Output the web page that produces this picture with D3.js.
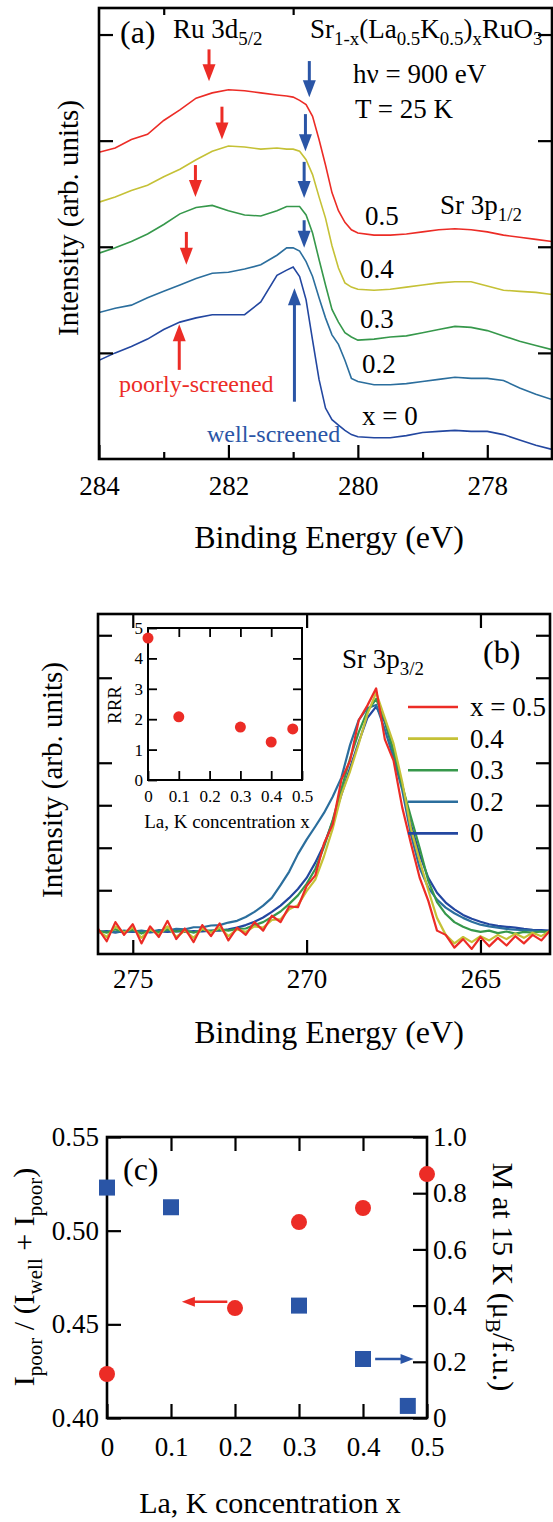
<!DOCTYPE html>
<html>
<head>
<meta charset="utf-8">
<script src="https://cdn.jsdelivr.net/npm/d3@7/dist/d3.min.js"></script>
<style>
body{margin:0;background:#fff}
svg text{font-family:"Liberation Serif","Times New Roman",serif;fill:#000}
</style>
</head>
<body>
<script>
// ---- panel (a): Ru 3d5/2 spectra, offset vertically ----
const energyA = [284.0, 283.75, 283.5, 283.25, 283.0, 282.75, 282.5, 282.25, 282.0, 281.75, 281.5, 281.25,
  281.1, 281.0, 280.9, 280.8, 280.7, 280.6, 280.5, 280.4, 280.3, 280.2, 280.1, 280.0,
  279.75, 279.5, 279.25, 279.0, 278.75, 278.5, 278.25, 278.0, 277.75, 277.5, 277.25, 277.0];
const ruX05 = [2.89, 2.93, 3.01, 3.06, 3.19, 3.29, 3.40, 3.45, 3.48, 3.47, 3.45, 3.43, 3.42, 3.41, 3.38, 3.34, 3.23, 3.01,
  2.77, 2.51, 2.34, 2.23, 2.16, 2.13, 2.11, 2.11, 2.12, 2.14, 2.16, 2.17, 2.16, 2.14, 2.11, 2.09, 2.07, 2.05];
const ruX04 = [2.42, 2.47, 2.53, 2.58, 2.66, 2.73, 2.82, 2.90, 2.95, 2.94, 2.92, 2.93, 2.92, 2.92, 2.90, 2.82, 2.68, 2.47,
  2.27, 2.01, 1.80, 1.66, 1.62, 1.60, 1.59, 1.60, 1.62, 1.64, 1.66, 1.67, 1.67, 1.63, 1.59, 1.58, 1.57, 1.55];
const ruX03 = [1.94, 1.99, 2.05, 2.12, 2.21, 2.31, 2.37, 2.39, 2.34, 2.30, 2.29, 2.34, 2.38, 2.38, 2.38, 2.30, 2.13, 1.88,
  1.64, 1.41, 1.29, 1.19, 1.15, 1.12, 1.13, 1.15, 1.16, 1.19, 1.22, 1.25, 1.24, 1.21, 1.16, 1.11, 1.07, 1.03];
const ruX02 = [1.38, 1.42, 1.45, 1.52, 1.58, 1.64, 1.70, 1.75, 1.76, 1.79, 1.83, 1.92, 1.99, 1.99, 1.96, 1.86, 1.72, 1.52,
  1.33, 1.17, 1.08, 0.93, 0.76, 0.73, 0.70, 0.70, 0.71, 0.73, 0.75, 0.77, 0.76, 0.76, 0.74, 0.67, 0.61, 0.56];
const ruX00 = [0.93, 1.00, 1.06, 1.13, 1.22, 1.29, 1.33, 1.36, 1.36, 1.36, 1.48, 1.73, 1.78, 1.81, 1.72, 1.50, 1.12, 0.75,
  0.48, 0.37, 0.32, 0.27, 0.23, 0.21, 0.20, 0.20, 0.22, 0.25, 0.26, 0.27, 0.26, 0.26, 0.23, 0.18, 0.13, 0.09];

// arrows marking poorly / well screened features (energy, from, to)
const poorArrowE = [282.30, 282.10, 282.51, 282.65, 282.76];
const poorArrowFrom = [3.86, 3.32, 2.77, 2.14, 0.84];
const poorArrowTo = [3.56, 3.01, 2.47, 1.83, 1.27];
const wellArrowE = [280.75, 280.81, 280.83, 280.83, 280.98];
const wellArrowFrom = [3.75, 3.25, 2.80, 2.25, 0.54];
const wellArrowTo = [3.41, 2.90, 2.46, 1.99, 1.61];

// ---- panel (b): Sr 3p3/2 spectra, 276 -> 263 eV in 0.25 eV steps ----
const energyB = d3.range(0, 53).map(i => 276 - 0.25 * i);
const srX05 = [0.10, -0.20, 0.25, -0.05, 0.20, -0.25, 0.15, -0.10, 0.28, -0.15, 0.10, -0.22, 0.18, -0.08, 0.22, -0.18,
  0.12, -0.05, 0.25, 0.05, 0.40, 0.25, 0.62, 0.60, 1.10, 1.35, 2.10, 2.55, 3.60, 4.05, 5.00, 5.35, 5.75,
  4.55, 4.05, 2.95, 2.10, 1.30, 0.75, 0.05, -0.05, -0.35, -0.15, -0.38, -0.10, -0.32, -0.12, -0.30, -0.08, -0.25, -0.05, -0.18, 0.05];
const srX04 = [0.05, -0.10, 0.15, 0.00, 0.12, -0.12, 0.08, -0.05, 0.15, -0.10, 0.05, -0.12, 0.10, 0.00, 0.12, -0.08,
  0.08, 0.02, 0.15, 0.12, 0.30, 0.32, 0.55, 0.65, 0.98, 1.25, 1.80, 2.45, 3.25, 3.80, 4.45, 5.15, 5.65,
  5.05, 4.45, 3.55, 2.45, 1.70, 1.00, 0.35, -0.05, -0.25, -0.10, -0.22, -0.08, -0.18, -0.05, -0.15, -0.02, -0.12, 0.00, -0.08, 0.05];
const srX03 = [0.05, 0.00, 0.08, 0.02, 0.07, -0.02, 0.06, 0.01, 0.08, 0.03, 0.06, 0.00, 0.07, 0.04, 0.08, 0.05,
  0.09, 0.10, 0.18, 0.25, 0.37, 0.50, 0.68, 0.88, 1.15, 1.50, 2.02, 2.65, 3.38, 4.10, 4.72, 5.22, 5.50,
  5.00, 4.28, 3.46, 2.72, 2.00, 1.22, 0.72, 0.44, 0.25, 0.14, 0.06, 0.02, 0.05, -0.01, 0.03, -0.02, 0.02, 0.00, 0.03, 0.02];
const srX02 = [0.00, 0.03, 0.01, 0.05, 0.03, 0.05, 0.02, 0.06, 0.05, 0.09, 0.08, 0.13, 0.13, 0.17, 0.18, 0.24,
  0.28, 0.37, 0.49, 0.64, 0.82, 1.12, 1.44, 1.85, 2.19, 2.50, 2.82, 3.20, 3.65, 4.42, 5.01, 5.29, 5.36,
  4.78, 4.12, 3.36, 2.31, 1.53, 1.06, 0.78, 0.59, 0.46, 0.35, 0.26, 0.19, 0.15, 0.12, 0.09, 0.07, 0.06, 0.05, 0.03, 0.02];
const srX00 = [0.02, 0.04, 0.01, 0.03, 0.02, 0.04, 0.01, 0.03, 0.02, 0.04, 0.02, 0.04, 0.03, 0.05, 0.05, 0.08,
  0.12, 0.18, 0.26, 0.36, 0.49, 0.64, 0.82, 1.03, 1.29, 1.65, 2.07, 2.62, 3.25, 3.88, 4.49, 5.06, 5.32,
  4.96, 4.26, 3.48, 2.54, 1.84, 1.29, 0.94, 0.71, 0.55, 0.42, 0.33, 0.26, 0.20, 0.16, 0.14, 0.12, 0.09, 0.07, 0.06, 0.05];

// inset: residual resistivity ratio
const rrrConc = [0, 0.1, 0.3, 0.4, 0.47];
const rrrValue = [4.67, 2.08, 1.74, 1.25, 1.68];

// ---- panel (c) ----
const poorConc = [0, 0.2, 0.3, 0.4, 0.5];
const poorRatio = [0.4235, 0.4587, 0.5046, 0.5121, 0.5302];
const momentConc = [0, 0.1, 0.3, 0.4, 0.47];
const moment15K = [0.82, 0.75, 0.40, 0.21, 0.043];

const seriesLabels = ["0.5", "0.4", "0.3", "0.2", "0"];
const colors = ["#ec2c26", "#c5c136", "#36984b", "#2b6e9d", "#2347a0"];
const RED = "#ec2c26", BLUE = "#2a55a6";

const svg = d3.select("body").append("svg").attr("width", 553).attr("height", 1522);

// text with sub-scripts: parts = [[str, 'sub'?], ...]
function rich(g, x, y, size, parts, opts = {}) {
  const t = g.append("text").attr("x", x).attr("y", y).attr("font-size", size);
  if (opts.anchor) t.attr("text-anchor", opts.anchor);
  if (opts.fill) t.style("fill", opts.fill);
  if (opts.rotate) t.attr("transform", `rotate(${opts.rotate},${x},${y})`);
  let shifted = 0;
  parts.forEach(p => {
    const s = t.append("tspan").text(p[0]);
    if (p[1] === "sub") {
      s.attr("font-size", size * 0.7);
      if (!shifted) { s.attr("dy", size * 0.25); shifted = 1; }
    } else if (shifted) { s.attr("dy", -size * 0.25); shifted = 0; }
  });
  return t;
}

function arrow(g, x0, y0, x1, y1, color, hl, hw, sw) {
  const L = Math.hypot(x1 - x0, y1 - y0), ux = (x1 - x0) / L, uy = (y1 - y0) / L;
  const bx = x1 - ux * hl, by = y1 - uy * hl;
  g.append("line").attr("x1", x0).attr("y1", y0).attr("x2", bx + ux).attr("y2", by + uy)
    .attr("stroke", color).attr("stroke-width", sw);
  g.append("path").attr("fill", color)
    .attr("d", `M${x1},${y1}L${bx - uy * hw / 2},${by + ux * hw / 2}L${bx + uy * hw / 2},${by - ux * hw / 2}Z`);
}

function styleAxis(g, size) {
  g.select(".domain").remove();
  g.attr("font-family", null).attr("font-size", size);
  g.selectAll(".tick line").attr("stroke", "#000").attr("stroke-width", 2.2);
  g.selectAll(".tick text").style("fill", "#000");
}

function frame(g, x, y, sw) {
  g.append("rect").attr("x", x.range()[0]).attr("y", y.range()[1])
    .attr("width", x.range()[1] - x.range()[0]).attr("height", y.range()[0] - y.range()[1])
    .attr("fill", "none").attr("stroke", "#000").attr("stroke-width", sw);
}

/* ================= panel (a) ================= */
const xA = d3.scaleLinear().domain([284, 277]).range([99, 552]);
const yA = d3.scaleLinear().domain([0, 4.25]).range([459, 8]);
const gA = svg.append("g");
svg.append("clipPath").attr("id", "clipA").append("rect")
  .attr("x", 99).attr("y", 8).attr("width", 453).attr("height", 451);

const lineA = d3.line().x((d, i) => xA(energyA[i])).y(d => yA(d));
[ruX05, ruX04, ruX03, ruX02, ruX00].forEach((s, k) => {
  gA.append("path").datum(s).attr("d", lineA).attr("fill", "none")
    .attr("stroke", colors[k]).attr("stroke-width", 1.6).attr("clip-path", "url(#clipA)");
});

poorArrowE.forEach((e, i) => arrow(gA, xA(e), yA(poorArrowFrom[i]), xA(e), yA(poorArrowTo[i]), RED, 17, 13, 3));
wellArrowE.forEach((e, i) => arrow(gA, xA(e), yA(wellArrowFrom[i]), xA(e), yA(wellArrowTo[i]), BLUE, 17, 13, 3));

gA.append("g").attr("transform", `translate(0,${yA(0)})`)
  .call(d3.axisBottom(xA).tickValues([284, 282, 280, 278]).tickSize(-14).tickPadding(17).tickFormat(d3.format("d")))
  .call(g => styleAxis(g, 27));
gA.append("g").attr("transform", `translate(0,${yA(0)})`)
  .call(d3.axisBottom(xA).tickValues([283, 281, 279]).tickSize(-7).tickFormat(""))
  .call(g => styleAxis(g, 27));
gA.append("g").attr("transform", `translate(0,${yA(4.25)})`)
  .call(d3.axisTop(xA).tickValues([283, 281]).tickSize(-7).tickFormat(""))
  .call(g => styleAxis(g, 27));
gA.append("g").attr("transform", `translate(${xA(284)},0)`)
  .call(d3.axisLeft(yA).tickValues([1, 2, 3, 4]).tickSize(-14).tickFormat(""))
  .call(g => styleAxis(g, 27));
gA.append("g").attr("transform", `translate(${xA(277)},0)`)
  .call(d3.axisRight(yA).tickValues([1, 2, 3, 4]).tickSize(-14).tickFormat(""))
  .call(g => styleAxis(g, 27));
frame(gA, xA, yA, 2.6);

gA.append("text").attr("x", 120).attr("y", 43).attr("font-size", 32).text("(a)");
rich(gA, 173, 38, 27, [["Ru 3d"], ["5/2", "sub"]]);
rich(gA, 310, 38, 27, [["Sr"], ["1-x", "sub"], ["(La"], ["0.5", "sub"], ["K"], ["0.5", "sub"], [")"], ["x", "sub"], ["RuO"], ["3", "sub"]]);
gA.append("text").attr("x", 353).attr("y", 83).attr("font-size", 27).text("h\u03bd = 900 eV");
gA.append("text").attr("x", 355).attr("y", 118).attr("font-size", 27).text("T = 25 K");
rich(gA, 440, 214, 27, [["Sr 3p"], ["1/2", "sub"]]);
const labelPosA = [[365, 225], [360, 278], [360, 328], [362, 373], [362, 425]];
seriesLabels.forEach((s, k) => gA.append("text").attr("x", labelPosA[k][0]).attr("y", labelPosA[k][1])
  .attr("font-size", 27).text(k === 4 ? "x = 0" : s));
gA.append("text").attr("x", 119).attr("y", 392).attr("font-size", 24).style("fill", RED).text("poorly-screened");
gA.append("text").attr("x", 207).attr("y", 442).attr("font-size", 24).style("fill", BLUE).text("well-screened");
gA.append("text").attr("x", 329).attr("y", 548).attr("font-size", 32).attr("text-anchor", "middle").text("Binding Energy (eV)");
gA.append("text").attr("x", 78).attr("y", 218).attr("font-size", 29).attr("text-anchor", "middle")
  .attr("transform", "rotate(-90,78,218)").text("Intensity (arb. units)");

/* ================= panel (b) ================= */
const xB = d3.scaleLinear().domain([276, 263]).range([98, 550]);
const yB = d3.scaleLinear().domain([-0.5, 7.5]).range([954, 614]);
const gB = svg.append("g");
svg.append("clipPath").attr("id", "clipB").append("rect")
  .attr("x", 98).attr("y", 614).attr("width", 452).attr("height", 340);

const lineB = d3.line().x((d, i) => xB(energyB[i])).y(d => yB(d));
[srX00, srX02, srX03, srX04, srX05].forEach((s, k) => {
  gB.append("path").datum(s).attr("d", lineB).attr("fill", "none")
    .attr("stroke", colors[4 - k]).attr("stroke-width", 2.2).attr("stroke-linejoin", "round")
    .attr("clip-path", "url(#clipB)");
});

gB.append("g").attr("transform", `translate(0,${yB(-0.5)})`)
  .call(d3.axisBottom(xB).tickValues([275, 270, 265]).tickSize(-14).tickPadding(15).tickFormat(d3.format("d")))
  .call(g => styleAxis(g, 27));
gB.append("g").attr("transform", `translate(0,${yB(7.5)})`)
  .call(d3.axisTop(xB).tickValues([275, 270, 265]).tickSize(-14).tickFormat(""))
  .call(g => styleAxis(g, 27));
gB.append("g").attr("transform", `translate(${xB(276)},0)`)
  .call(d3.axisLeft(yB).tickValues([1, 2, 3, 4, 6, 7]).tickSize(-14).tickFormat(""))
  .call(g => styleAxis(g, 27));
gB.append("g").attr("transform", `translate(${xB(263)},0)`)
  .call(d3.axisRight(yB).tickValues([1, 2, 3, 4, 6, 7]).tickSize(-14).tickFormat(""))
  .call(g => styleAxis(g, 27));
frame(gB, xB, yB, 2.6);

gB.append("text").attr("x", 483).attr("y", 663).attr("font-size", 32).text("(b)");
rich(gB, 342, 668, 27, [["Sr 3p"], ["3/2", "sub"]]);
seriesLabels.forEach((s, k) => {
  const ly = 707 + k * 31.6;
  gB.append("line").attr("x1", 408).attr("x2", 458).attr("y1", ly).attr("y2", ly)
    .attr("stroke", colors[k]).attr("stroke-width", 2.6);
  gB.append("text").attr("x", 470).attr("y", ly + 9).attr("font-size", 27).text(k === 0 ? "x = " + s : s);
});
gB.append("text").attr("x", 329).attr("y", 1043).attr("font-size", 32).attr("text-anchor", "middle").text("Binding Energy (eV)");
gB.append("text").attr("x", 62).attr("y", 780).attr("font-size", 29).attr("text-anchor", "middle")
  .attr("transform", "rotate(-90,62,780)").text("Intensity (arb. units)");

// inset
const xI = d3.scaleLinear().domain([0, 0.5]).range([148, 302]);
const yI = d3.scaleLinear().domain([0, 5]).range([780, 628]);
const gI = svg.append("g");
gI.append("g").attr("transform", `translate(0,${yI(0)})`)
  .call(d3.axisBottom(xI).tickValues([0, 0.1, 0.2, 0.3, 0.4, 0.5]).tickSize(-9).tickPadding(10)
    .tickFormat(d => d === 0 ? "0" : d.toFixed(1)))
  .call(g => styleAxis(g, 17));
gI.append("g").attr("transform", `translate(0,${yI(5)})`)
  .call(d3.axisTop(xI).tickValues([0.1, 0.2, 0.3, 0.4]).tickSize(-9).tickFormat(""))
  .call(g => styleAxis(g, 17));
gI.append("g").attr("transform", `translate(${xI(0)},0)`)
  .call(d3.axisLeft(yI).tickValues([0, 1, 2, 3, 4, 5]).tickSize(-9).tickPadding(5).tickFormat(d3.format("d")))
  .call(g => styleAxis(g, 17));
gI.append("g").attr("transform", `translate(${xI(0.5)},0)`)
  .call(d3.axisRight(yI).tickValues([1, 2, 3, 4]).tickSize(-9).tickFormat(""))
  .call(g => styleAxis(g, 17));
gI.selectAll(".tick line").attr("stroke-width", 1.8);
frame(gI, xI, yI, 2);
gI.selectAll("circle.rrr").data(rrrConc).join("circle").attr("class", "rrr")
  .attr("cx", d => xI(d)).attr("cy", (d, i) => yI(rrrValue[i])).attr("r", 5.5).attr("fill", RED);
gI.append("text").attr("x", 227).attr("y", 828).attr("font-size", 19).attr("text-anchor", "middle").text("La, K concentration x");
gI.append("text").attr("x", 121).attr("y", 705).attr("font-size", 19).attr("text-anchor", "middle")
  .attr("transform", "rotate(-90,121,705)").text("RRR");

/* ================= panel (c) ================= */
const xC = d3.scaleLinear().domain([0, 0.5]).range([107, 427]);
const yCL = d3.scaleLinear().domain([0.40, 0.55]).range([1418, 1137]);
const yCR = d3.scaleLinear().domain([0, 1]).range([1418, 1137]);
const gC = svg.append("g");

gC.append("g").attr("transform", `translate(0,${yCL(0.40)})`)
  .call(d3.axisBottom(xC).tickValues([0, 0.1, 0.2, 0.3, 0.4, 0.5]).tickSize(-14).tickPadding(19)
    .tickFormat(d => d === 0 ? "0" : d.toFixed(1)))
  .call(g => styleAxis(g, 27));
gC.append("g").attr("transform", `translate(0,${yCL(0.55)})`)
  .call(d3.axisTop(xC).tickValues([0.1, 0.2, 0.3, 0.4]).tickSize(-14).tickFormat(""))
  .call(g => styleAxis(g, 27));
gC.append("g").attr("transform", `translate(${xC(0)},0)`)
  .call(d3.axisLeft(yCL).tickValues([0.40, 0.45, 0.50, 0.55]).tickSize(-14).tickPadding(8).tickFormat(d3.format(".2f")))
  .call(g => styleAxis(g, 27));
gC.append("g").attr("transform", `translate(${xC(0.5)},0)`)
  .call(d3.axisRight(yCR).tickValues([0, 0.2, 0.4, 0.6, 0.8, 1.0]).tickSize(-14).tickPadding(6)
    .tickFormat(d => d === 0 ? "0" : d.toFixed(1)))
  .call(g => styleAxis(g, 27));
frame(gC, xC, yCL, 2.6);

gC.selectAll("rect.mom").data(momentConc).join("rect").attr("class", "mom")
  .attr("x", d => xC(d) - 8).attr("y", (d, i) => yCR(moment15K[i]) - 8)
  .attr("width", 16).attr("height", 16).attr("fill", BLUE);
gC.selectAll("circle.poor").data(poorConc).join("circle").attr("class", "poor")
  .attr("cx", d => xC(d)).attr("cy", (d, i) => yCL(poorRatio[i])).attr("r", 8).attr("fill", RED);
arrow(gC, xC(0.188), yCL(0.462), xC(0.117), yCL(0.462), RED, 13, 10, 2.5);
arrow(gC, xC(0.419), yCR(0.21), xC(0.479), yCR(0.21), BLUE, 13, 10, 2.5);

gC.append("text").attr("x", 123).attr("y", 1180).attr("font-size", 32).text("(c)");
gC.append("text").attr("x", 270).attr("y", 1513).attr("font-size", 30).attr("text-anchor", "middle").text("La, K concentration x");
rich(gC, 34, 1277, 30, [["I"], ["poor", "sub"], [" / (I"], ["well", "sub"], [" + I"], ["poor", "sub"], [")"]],
  { anchor: "middle", rotate: -90 });
rich(gC, 493, 1277, 30, [["M at 15 K (\u03bc"], ["B", "sub"], ["/f.u.)"]], { anchor: "middle", rotate: 90 });
</script>
</body>
</html>
